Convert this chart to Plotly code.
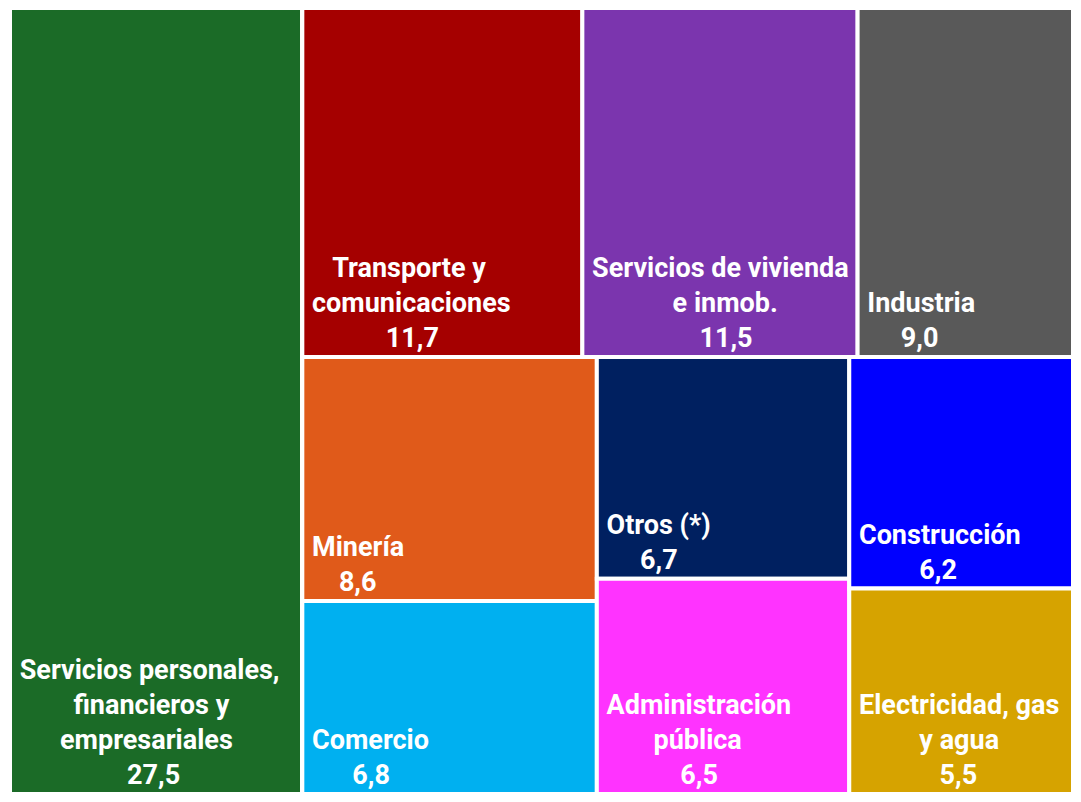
import plotly.graph_objects as go

# sectors (leaf tiles) and their shares, in %
sectores = [
    "Servicios personales,<br>financieros y<br>empresariales",
    "Transporte y<br>comunicaciones",
    "Servicios de vivienda<br>e inmob.",
    "Industria",
    "Minería",
    "Comercio",
    "Otros (*)",
    "Administración<br>pública",
    "Construcción",
    "Electricidad, gas<br>y agua",
]
valores = [27.5, 11.7, 11.5, 9.0, 8.6, 6.8, 6.7, 6.5, 6.2, 5.5]
colores = ["#1B6B27", "#A50000", "#7B35AE", "#595959", "#E05A1A",
           "#00B0F0", "#002060", "#FF33FF", "#0000FF", "#D6A300"]

# grouping used to reproduce the tile arrangement (slice-dice)
leaf_ids = ["serv", "trans", "viv", "ind", "min", "com", "otros", "adm", "cons", "elec"]
leaf_parents = ["", "top", "top", "top", "col1", "col1", "col2", "col2", "col3", "col3"]
group_ids = ["resto", "top", "bottom", "col1", "col2", "col3"]
group_parents = ["", "resto", "resto", "bottom", "bottom", "bottom"]

# rough glyph widths (em) for a bold sans, used to centre the lines of each label
WIDE = {"m": 0.88, "w": 0.75, "M": 0.85, "W": 0.9}
NARROW = {"i": 0.25, "í": 0.25, "l": 0.25, "j": 0.25, "t": 0.33, "f": 0.35, "r": 0.35,
          " ": 0.25, ",": 0.22, ".": 0.24, "(": 0.33, ")": 0.33, "*": 0.42, "I": 0.28}


def text_width(s):
    w = 0
    for ch in s:
        if ch in WIDE:
            w += WIDE[ch]
        elif ch in NARROW:
            w += NARROW[ch]
        elif ch.isupper():
            w += 0.64
        else:
            w += 0.55
    return w


def centred(label, value):
    lines = label.split("<br>") + [f"{value:.1f}".replace(".", ",")]
    widest = max(text_width(l) for l in lines)
    out = []
    for l in lines:
        n = int(round((widest - text_width(l)) / 2 / 0.25)) + 1  # +1 = small inner margin
        out.append("\u00a0" * n + l)
    return "<b>" + "<br>".join(out) + "</b>"


ids = leaf_ids + group_ids
parents = leaf_parents + group_parents
labels = [l.replace("<br>", " ") for l in sectores] + [""] * len(group_ids)
values = valores + [0] * len(group_ids)
texts = [centred(l, v) for l, v in zip(sectores, valores)] + [""] * len(group_ids)
colors = colores + ["white"] * len(group_ids)

fig = go.Figure(go.Treemap(
    ids=ids,
    parents=parents,
    labels=labels,
    values=values,
    text=texts,
    textinfo="text",
    branchvalues="remainder",
    sort=False,
    textposition="bottom left",
    textfont=dict(family="Roboto", size=27, color="white"),
    marker=dict(colors=colors, line=dict(color="white", width=4),
                pad=dict(t=0, l=0, r=0, b=0)),
    tiling=dict(packing="slice-dice", pad=0),
    pathbar=dict(visible=False),
    hoverinfo="label+value",
))

fig.update_layout(
    margin=dict(l=2, r=0, t=0, b=0),
    paper_bgcolor="white",
    uniformtext=dict(minsize=10),
)

fig.write_html("out.html")
